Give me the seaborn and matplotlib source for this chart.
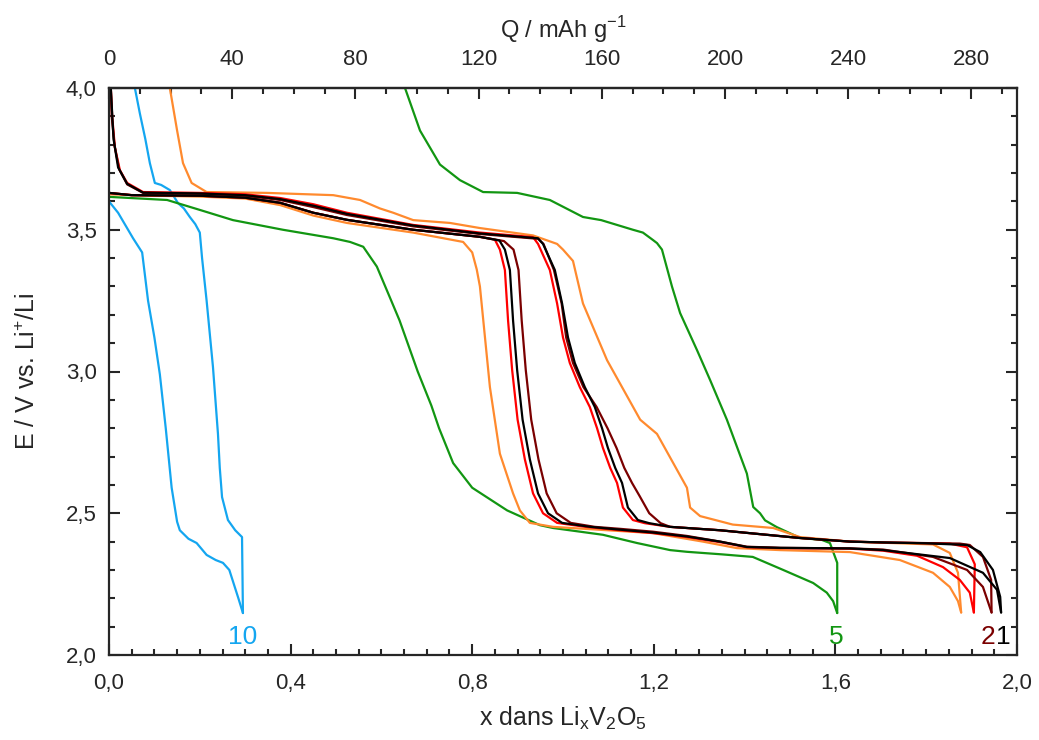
import numpy as np
import pandas as pd
import matplotlib
matplotlib.use("Agg")
import matplotlib.pyplot as plt
import seaborn as sns
from matplotlib.ticker import MultipleLocator, FixedLocator, FuncFormatter

# capacity of one Li per V2O5 (mAh/g)
Q_PER_LI = 147.4

# ----------------------------
# Curves (x in LixV2O5, E in V)
# ----------------------------

blue_dis_x = [0.0, 0.02, 0.053, 0.073, 0.086, 0.1, 0.112, 0.125, 0.138, 0.15, 0.156, 0.175, 0.193, 0.215, 0.235, 0.251, 0.265, 0.275, 0.285, 0.295]
blue_dis_e = [3.60, 3.56, 3.47, 3.42, 3.25, 3.12, 2.99, 2.80, 2.59, 2.47, 2.44, 2.41, 2.395, 2.353, 2.335, 2.325, 2.30, 2.25, 2.20, 2.148]
blue_ch_x = [0.295, 0.293, 0.278, 0.262, 0.249, 0.244, 0.24, 0.229, 0.215, 0.205, 0.2, 0.19, 0.178, 0.165, 0.152, 0.134, 0.115, 0.101, 0.09, 0.08, 0.068, 0.057]
blue_ch_e = [2.148, 2.416, 2.44, 2.476, 2.557, 2.66, 2.78, 3.016, 3.25, 3.40, 3.49, 3.52, 3.545, 3.575, 3.594, 3.64, 3.658, 3.665, 3.735, 3.82, 3.91, 4.0]

green_dis_x = [0.0, 0.128, 0.2, 0.273, 0.383, 0.494, 0.531, 0.56, 0.59, 0.619, 0.64, 0.68, 0.71, 0.727, 0.758, 0.80, 0.877, 0.949, 0.978, 1.088, 1.163, 1.236, 1.273, 1.35, 1.418, 1.485, 1.551, 1.581, 1.595, 1.604]
green_dis_e = [3.616, 3.605, 3.57, 3.534, 3.50, 3.47, 3.457, 3.44, 3.37, 3.26, 3.18, 3.0, 2.88, 2.80, 2.677, 2.59, 2.51, 2.458, 2.448, 2.424, 2.395, 2.37, 2.364, 2.355, 2.346, 2.30, 2.254, 2.22, 2.19, 2.148]
green_ch_x = [1.604, 1.604, 1.588, 1.57, 1.522, 1.471, 1.445, 1.434, 1.419, 1.405, 1.361, 1.324, 1.295, 1.258, 1.24, 1.218, 1.207, 1.198, 1.176, 1.154, 1.084, 1.044, 0.971, 0.899, 0.824, 0.773, 0.729, 0.685, 0.652]
green_ch_e = [2.148, 2.325, 2.395, 2.406, 2.413, 2.451, 2.475, 2.50, 2.522, 2.64, 2.83, 2.97, 3.076, 3.206, 3.30, 3.43, 3.453, 3.464, 3.49, 3.50, 3.534, 3.545, 3.605, 3.63, 3.633, 3.675, 3.73, 3.85, 4.0]

orange_dis_x = [0.0, 0.1, 0.2, 0.3, 0.377, 0.45, 0.524, 0.67, 0.78, 0.80, 0.81, 0.817, 0.839, 0.861, 0.89, 0.905, 0.927, 0.978, 1.198, 1.308, 1.383, 1.478, 1.632, 1.742, 1.815, 1.852, 1.87, 1.877]
orange_dis_e = [3.625, 3.62, 3.617, 3.61, 3.587, 3.55, 3.524, 3.49, 3.457, 3.42, 3.36, 3.30, 2.945, 2.71, 2.57, 2.51, 2.466, 2.452, 2.43, 2.40, 2.377, 2.37, 2.363, 2.335, 2.29, 2.24, 2.19, 2.15]
orange_ch_x = [1.877, 1.87, 1.852, 1.815, 1.632, 1.522, 1.463, 1.374, 1.302, 1.28, 1.273, 1.214, 1.207, 1.17, 1.097, 1.044, 1.022, 1.0, 0.987, 0.934, 0.817, 0.751, 0.67, 0.626, 0.597, 0.553, 0.494, 0.348, 0.215, 0.182, 0.163, 0.15, 0.134]
orange_ch_e = [2.15, 2.29, 2.36, 2.39, 2.40, 2.416, 2.448, 2.46, 2.49, 2.52, 2.59, 2.76, 2.78, 2.83, 3.04, 3.24, 3.39, 3.43, 3.45, 3.48, 3.506, 3.524, 3.534, 3.56, 3.575, 3.605, 3.622, 3.63, 3.633, 3.665, 3.735, 3.85, 4.0]

red_dis_x = [0.0, 0.05, 0.2, 0.3, 0.377, 0.45, 0.524, 0.67, 0.817, 0.85, 0.861, 0.872, 0.879, 0.888, 0.90, 0.916, 0.934, 0.956, 0.987, 1.05, 1.126, 1.198, 1.273, 1.346, 1.405, 1.478, 1.632, 1.705, 1.78, 1.837, 1.874, 1.896, 1.905]
red_dis_e = [3.63, 3.622, 3.62, 3.613, 3.595, 3.56, 3.535, 3.50, 3.475, 3.465, 3.43, 3.358, 3.18, 3.005, 2.83, 2.69, 2.57, 2.50, 2.466, 2.452, 2.44, 2.43, 2.416, 2.398, 2.38, 2.377, 2.375, 2.368, 2.35, 2.31, 2.265, 2.22, 2.15]
red_ch_x = [1.905, 1.907, 1.89, 1.852, 1.705, 1.632, 1.52, 1.41, 1.346, 1.236, 1.18, 1.154, 1.132, 1.119, 1.104, 1.088, 1.075, 1.059, 1.037, 1.015, 1.0, 0.987, 0.971, 0.945, 0.934, 0.817, 0.67, 0.524, 0.45, 0.377, 0.3, 0.2, 0.075, 0.04, 0.024, 0.013, 0.007, 0.004]
red_ch_e = [2.15, 2.32, 2.38, 2.393, 2.397, 2.40, 2.413, 2.43, 2.44, 2.452, 2.465, 2.476, 2.52, 2.607, 2.66, 2.73, 2.80, 2.875, 2.945, 3.03, 3.12, 3.24, 3.358, 3.45, 3.474, 3.49, 3.517, 3.56, 3.59, 3.612, 3.625, 3.63, 3.633, 3.665, 3.71, 3.79, 3.9, 4.0]

dkred_dis_x = [0.0, 0.05, 0.2, 0.3, 0.377, 0.45, 0.524, 0.67, 0.817, 0.87, 0.891, 0.902, 0.909, 0.918, 0.93, 0.946, 0.964, 0.986, 1.017, 1.07, 1.126, 1.198, 1.273, 1.346, 1.405, 1.478, 1.632, 1.705, 1.815, 1.89, 1.925, 1.944]
dkred_dis_e = [3.63, 3.622, 3.62, 3.613, 3.595, 3.56, 3.535, 3.50, 3.475, 3.46, 3.43, 3.358, 3.18, 3.005, 2.83, 2.69, 2.57, 2.50, 2.466, 2.452, 2.445, 2.435, 2.42, 2.40, 2.382, 2.378, 2.376, 2.372, 2.346, 2.30, 2.24, 2.15]
dkred_ch_x = [1.944, 1.943, 1.925, 1.896, 1.874, 1.705, 1.632, 1.52, 1.41, 1.346, 1.236, 1.215, 1.19, 1.169, 1.152, 1.135, 1.118, 1.098, 1.074, 1.045, 1.022, 1.007, 0.997, 0.98, 0.957, 0.945, 0.817, 0.67, 0.524, 0.45, 0.377, 0.3, 0.2, 0.075, 0.04, 0.022, 0.012, 0.006, 0.004]
dkred_ch_e = [2.15, 2.265, 2.346, 2.388, 2.393, 2.397, 2.40, 2.413, 2.43, 2.44, 2.452, 2.465, 2.50, 2.56, 2.607, 2.66, 2.73, 2.80, 2.875, 2.945, 3.03, 3.12, 3.24, 3.358, 3.45, 3.468, 3.485, 3.512, 3.552, 3.58, 3.605, 3.62, 3.627, 3.63, 3.66, 3.715, 3.80, 3.9, 4.0]

black_dis_x = [0.0, 0.05, 0.2, 0.3, 0.377, 0.45, 0.524, 0.67, 0.817, 0.86, 0.872, 0.883, 0.89, 0.899, 0.911, 0.927, 0.945, 0.967, 0.998, 1.06, 1.126, 1.198, 1.273, 1.346, 1.405, 1.478, 1.632, 1.705, 1.852, 1.925, 1.956, 1.965]
black_dis_e = [3.63, 3.622, 3.62, 3.613, 3.595, 3.56, 3.535, 3.50, 3.475, 3.462, 3.43, 3.358, 3.18, 3.005, 2.83, 2.69, 2.57, 2.50, 2.466, 2.452, 2.442, 2.432, 2.418, 2.40, 2.381, 2.378, 2.376, 2.37, 2.342, 2.29, 2.23, 2.15]
black_ch_x = [1.965, 1.963, 1.947, 1.919, 1.89, 1.8, 1.705, 1.632, 1.52, 1.41, 1.346, 1.236, 1.19, 1.165, 1.143, 1.13, 1.115, 1.099, 1.086, 1.07, 1.048, 1.026, 1.011, 0.998, 0.982, 0.956, 0.945, 0.817, 0.67, 0.524, 0.45, 0.377, 0.3, 0.2, 0.075, 0.04, 0.02, 0.01, 0.004]
black_ch_e = [2.15, 2.205, 2.30, 2.363, 2.388, 2.394, 2.397, 2.40, 2.413, 2.43, 2.44, 2.452, 2.465, 2.476, 2.52, 2.607, 2.66, 2.73, 2.80, 2.875, 2.945, 3.03, 3.12, 3.24, 3.358, 3.45, 3.47, 3.487, 3.515, 3.556, 3.585, 3.608, 3.622, 3.628, 3.631, 3.662, 3.72, 3.82, 4.0]

q_ticks = [0, 40, 80, 120, 160, 200, 240, 280]

curve_colors = {
    "10": "#14A6F0",
    "5": "#129612",
    "2b": "#FF8A2E",
    "2a": "#FF0000",
    "2": "#7A0000",
    "1": "#000000",
}

curves = [
    ("10", blue_dis_x, blue_dis_e), ("10", blue_ch_x, blue_ch_e),
    ("5", green_dis_x, green_dis_e), ("5", green_ch_x, green_ch_e),
    ("2b", orange_dis_x, orange_dis_e), ("2b", orange_ch_x, orange_ch_e),
    ("2a", red_dis_x, red_dis_e), ("2a", red_ch_x, red_ch_e),
    ("2", dkred_dis_x, dkred_dis_e), ("2", dkred_ch_x, dkred_ch_e),
    ("1", black_dis_x, black_dis_e), ("1", black_ch_x, black_ch_e),
]

rate_labels = ["10", "5", "2", "1"]
rate_label_x = [0.295, 1.601, 1.936, 1.97]

sns.set_style("ticks")
plt.rcParams["font.family"] = ["Liberation Sans", "DejaVu Sans"]
plt.rcParams["mathtext.fontset"] = "custom"
plt.rcParams["mathtext.rm"] = "Liberation Sans"

fig, ax = plt.subplots(figsize=(10.39, 7.4), dpi=100)
fig.subplots_adjust(left=109 / 1039, right=1017 / 1039, bottom=1 - 655 / 740, top=1 - 88 / 740)

for key, xs, es in curves:
    df = pd.DataFrame({"x": xs, "E": es})
    sns.lineplot(data=df, x="x", y="E", sort=False, estimator=None,
                 color=curve_colors[key], lw=1.6, ax=ax)

for lab, lx in zip(rate_labels, rate_label_x):
    ax.text(lx, 2.062, lab, color=curve_colors[lab], fontsize=19,
            ha="center", va="center")

ax.set_xlim(0, 2.0)
ax.set_ylim(2.0, 4.0)

comma = FuncFormatter(lambda v, p: f"{v:.1f}".replace(".", ","))
ax.xaxis.set_major_locator(MultipleLocator(0.4))
ax.xaxis.set_minor_locator(MultipleLocator(0.05))
ax.yaxis.set_major_locator(MultipleLocator(0.5))
ax.yaxis.set_minor_locator(MultipleLocator(0.1))
ax.xaxis.set_major_formatter(comma)
ax.yaxis.set_major_formatter(comma)

ax.tick_params(which="both", direction="in", top=False, right=True, width=1.5, labelsize=16)
ax.tick_params(which="major", length=8)
ax.tick_params(which="minor", length=4.5)
ax.tick_params(axis="x", pad=13)
ax.tick_params(axis="y", pad=9)

ax.set_xlabel("x dans Li$_\\mathregular{x}$V$_\\mathregular{2}$O$_\\mathregular{5}$", fontsize=18)
ax.xaxis.set_label_coords(0.5, (655 - 705) / 567)
ax.set_ylabel("E / V vs. Li$^\\mathregular{+}$/Li", fontsize=18)
ax.yaxis.set_label_coords((40 - 109) / 908, 0.5)

top = ax.secondary_xaxis("top", functions=(lambda x: x * Q_PER_LI, lambda q: q / Q_PER_LI))
top.xaxis.set_major_locator(FixedLocator(q_ticks))
top.xaxis.set_minor_locator(FixedLocator(list(range(10, 300, 10))))
top.tick_params(which="both", direction="in", width=1.5, labelsize=16, pad=13)
top.tick_params(which="major", length=8)
top.tick_params(which="minor", length=4.5)
top.set_xlabel("Q / mAh g$^\\mathregular{-1}$", fontsize=17, labelpad=8)

for s in ax.spines.values():
    s.set_linewidth(1.6)
for s in top.spines.values():
    s.set_linewidth(1.6)

fig.savefig("out.png", dpi=100)
